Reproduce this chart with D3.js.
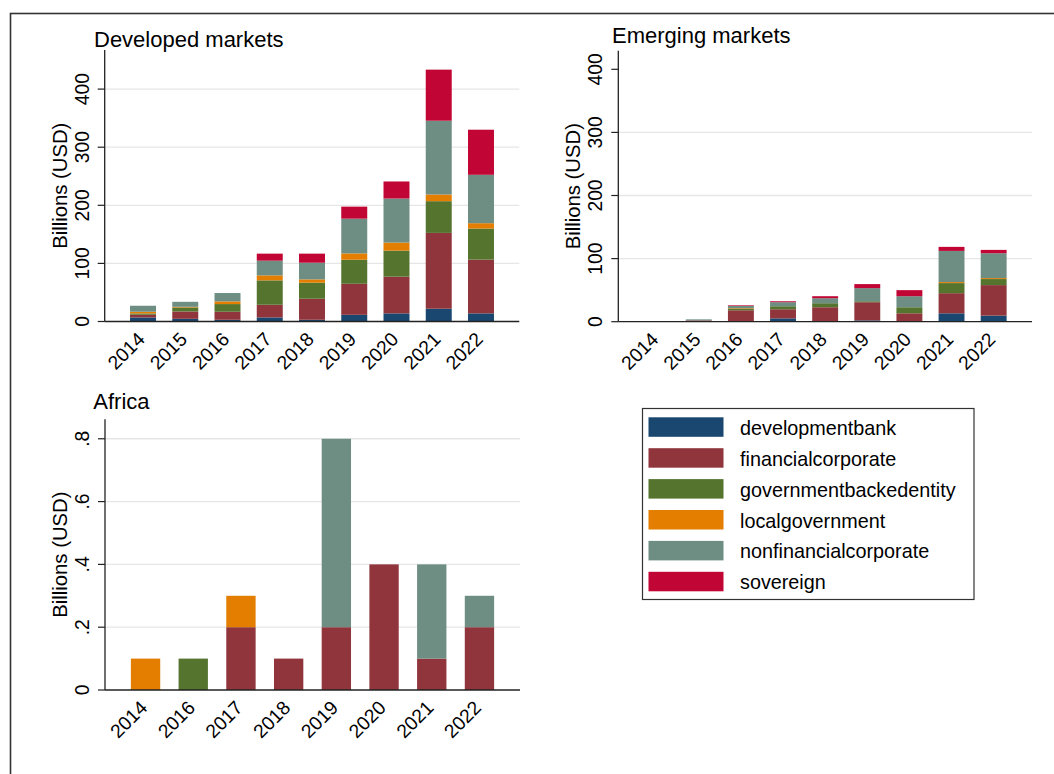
<!DOCTYPE html>
<html><head><meta charset="utf-8">
<script src="https://cdn.jsdelivr.net/npm/d3@7"></script>
<style>
body{margin:0;background:#fff}
svg{display:block}
text{font-family:"Liberation Sans",Arial,Helvetica,sans-serif;fill:#000}
</style>
</head><body>
<svg id="c" width="1054" height="774"></svg>
<script>
// ---------- data ----------
const seriesNames = ["developmentbank","financialcorporate","governmentbackedentity","localgovernment","nonfinancialcorporate","sovereign"];
const seriesColors = ["#1a476f","#90353b","#55752f","#e37e00","#6e8e84","#c10534"];

const devYears = ["2014","2015","2016","2017","2018","2019","2020","2021","2022"];
const devDevelopmentbank   = [7, 4.6, 3, 7, 3, 11.5, 14, 22, 14];
const devFinancial         = [4.6, 12.6, 13.8, 21.8, 36.2, 53.4, 63.2, 130.5, 92.5];
const devGovBacked         = [2.3, 6.9, 13.2, 42, 27.6, 41.4, 44.8, 54.6, 53.5];
const devLocalGov          = [2.9, 1.2, 4.6, 8.6, 5.7, 10.9, 13.8, 11.5, 9.2];
const devNonfinancial      = [10.3, 8.6, 14.4, 25.3, 28.7, 59.8, 75.9, 127, 83.3];
const devSovereign         = [0, 0, 0, 12.1, 15.6, 20.7, 29.3, 87.9, 77.6];

const emYears = ["2014","2015","2016","2017","2018","2019","2020","2021","2022"];
const emDevelopmentbank    = [0, 0, 0, 5.3, 0.5, 2.1, 0, 13.3, 9.6];
const emFinancial          = [0.2, 2.1, 18.1, 14.4, 22.4, 28.8, 13.3, 31.9, 48.4];
const emGovBacked          = [0, 0, 2.1, 4.8, 6.4, 1.5, 9.6, 16, 9.6];
const emLocalGov           = [0, 0, 1.1, 0, 0, 0, 0, 1.6, 1.5];
const emNonfinancial       = [0, 1.6, 3.7, 6.4, 7.9, 20.8, 17.5, 49.4, 39.4];
const emSovereign          = [0, 0, 1, 1.5, 3.2, 6.4, 9.6, 6.4, 5.3];

const afYears = ["2014","2016","2017","2018","2019","2020","2021","2022"];
const afDevelopmentbank    = [0, 0, 0, 0, 0, 0, 0, 0];
const afFinancial          = [0, 0, 0.2, 0.1, 0.2, 0.4, 0.1, 0.2];
const afGovBacked          = [0, 0.1, 0, 0, 0, 0, 0, 0];
const afLocalGov           = [0.1, 0, 0.1, 0, 0, 0, 0, 0];
const afNonfinancial       = [0, 0, 0, 0, 0.6, 0, 0.3, 0.1];
const afSovereign          = [0, 0, 0, 0, 0, 0, 0, 0];

const bigTicks = [0, 100, 200, 300, 400];
const afTicks = [0, 0.2, 0.4, 0.6, 0.8];
const afTickLabels = ["0", ".2", ".4", ".6", ".8"];
const yTitle = "Billions (USD)";

// ---------- drawing ----------
const svg = d3.select("#c");
svg.append("rect").attr("x",10.5).attr("y",13.5).attr("width",1200).attr("height",1000)
  .attr("fill","none").attr("stroke","#333").attr("stroke-width",1.6);

function panel(o){
  const g = svg.append("g");
  const x = d3.scalePoint().domain(o.years).range([o.x0, o.x1]).padding(o.pad);
  const y = d3.scaleLinear().domain([0, o.yMax]).range([o.yBase, o.yTop]);
  const bw = x.step() * 0.615;
  // gridlines
  g.selectAll(".grid").data(o.grid).join("line")
    .attr("x1", o.x0).attr("x2", o.x1)
    .attr("y1", d => y(d)).attr("y2", d => y(d))
    .attr("stroke", "#e6e6e6").attr("stroke-width", 1.3);
  // bars
  const rows = o.years.map((yr, i) => {
    const r = {year: yr};
    seriesNames.forEach((s, k) => r[s] = o.data[k][i]);
    return r;
  });
  const stacked = d3.stack().keys(seriesNames)(rows);
  stacked.forEach((layer, k) => {
    g.append("g").selectAll("rect").data(layer.filter(d => d[1] - d[0] > 0)).join("rect")
      .attr("x", d => x(d.data.year) - bw/2)
      .attr("width", bw)
      .attr("y", d => y(d[1]))
      .attr("height", d => y(d[0]) - y(d[1]))
      .attr("fill", seriesColors[k]);
  });
  // axes
  g.append("line").attr("x1", o.x0).attr("x2", o.x0).attr("y1", o.yTop).attr("y2", o.yBase)
    .attr("stroke", "#222").attr("stroke-width", 1.3);
  g.append("line").attr("x1", o.x0).attr("x2", o.x1).attr("y1", o.yBase).attr("y2", o.yBase)
    .attr("stroke", "#222").attr("stroke-width", 1.3);
  o.ticks.forEach((t, i) => {
    g.append("line").attr("x1", o.x0 - 7).attr("x2", o.x0).attr("y1", y(t)).attr("y2", y(t))
      .attr("stroke", "#222").attr("stroke-width", 1.2);
    g.append("text").attr("transform", `translate(${o.x0 - 16},${y(t)}) rotate(-90)`)
      .attr("text-anchor", "middle").attr("font-size", 19.3).text(o.tickLabels[i]);
  });
  o.years.forEach(yr => {
    g.append("text").attr("transform", `translate(${x(yr) + 3},${o.yBase + 19}) rotate(-45)`)
      .attr("text-anchor", "end").attr("font-size", 19.3).text(yr);
  });
  g.append("text").attr("transform", `translate(${o.x0 - 38},${(o.yTop + o.yBase)/2}) rotate(-90)`)
    .attr("text-anchor", "middle").attr("font-size", 20.3).text(yTitle);
  g.append("text").attr("x", o.titleX).attr("y", o.titleY).attr("font-size", 22).text(o.title);
}

panel({title:"Developed markets", titleX:94, titleY:46.5, years:devYears,
  data:[devDevelopmentbank,devFinancial,devGovBacked,devLocalGov,devNonfinancial,devSovereign],
  x0:104.7, x1:519.3, pad:0.907, yTop:50, yBase:321.5, yMax:467.3,
  ticks:bigTicks, tickLabels:bigTicks.map(String), grid:[100,200,300,400]});

panel({title:"Emerging markets", titleX:612, titleY:43.3, years:emYears,
  data:[emDevelopmentbank,emFinancial,emGovBacked,emLocalGov,emNonfinancial,emSovereign],
  x0:618.3, x1:1032, pad:0.91, yTop:50.7, yBase:321.7, yMax:429.5,
  ticks:bigTicks, tickLabels:bigTicks.map(String), grid:[100,200,300]});

panel({title:"Africa", titleX:93.3, titleY:409.3, years:afYears,
  data:[afDevelopmentbank,afFinancial,afGovBacked,afLocalGov,afNonfinancial,afSovereign],
  x0:105, x1:520, pad:0.85, yTop:419.3, yBase:690, yMax:0.862,
  ticks:afTicks, tickLabels:afTickLabels, grid:[0.2,0.4,0.6,0.8]});

// legend
const lg = svg.append("g");
lg.append("rect").attr("x", 642.5).attr("y", 408.5).attr("width", 331.5).attr("height", 191)
  .attr("fill", "#fff").attr("stroke", "#333").attr("stroke-width", 1.2);
seriesNames.forEach((s, i) => {
  const yy = 417.3 + i * 30.9;
  lg.append("rect").attr("x", 648.5).attr("y", yy).attr("width", 75).attr("height", 19.5).attr("fill", seriesColors[i]);
  lg.append("text").attr("x", 740).attr("y", yy + 17.5).attr("font-size", 19.8).text(s);
});
</script>
</body></html>
